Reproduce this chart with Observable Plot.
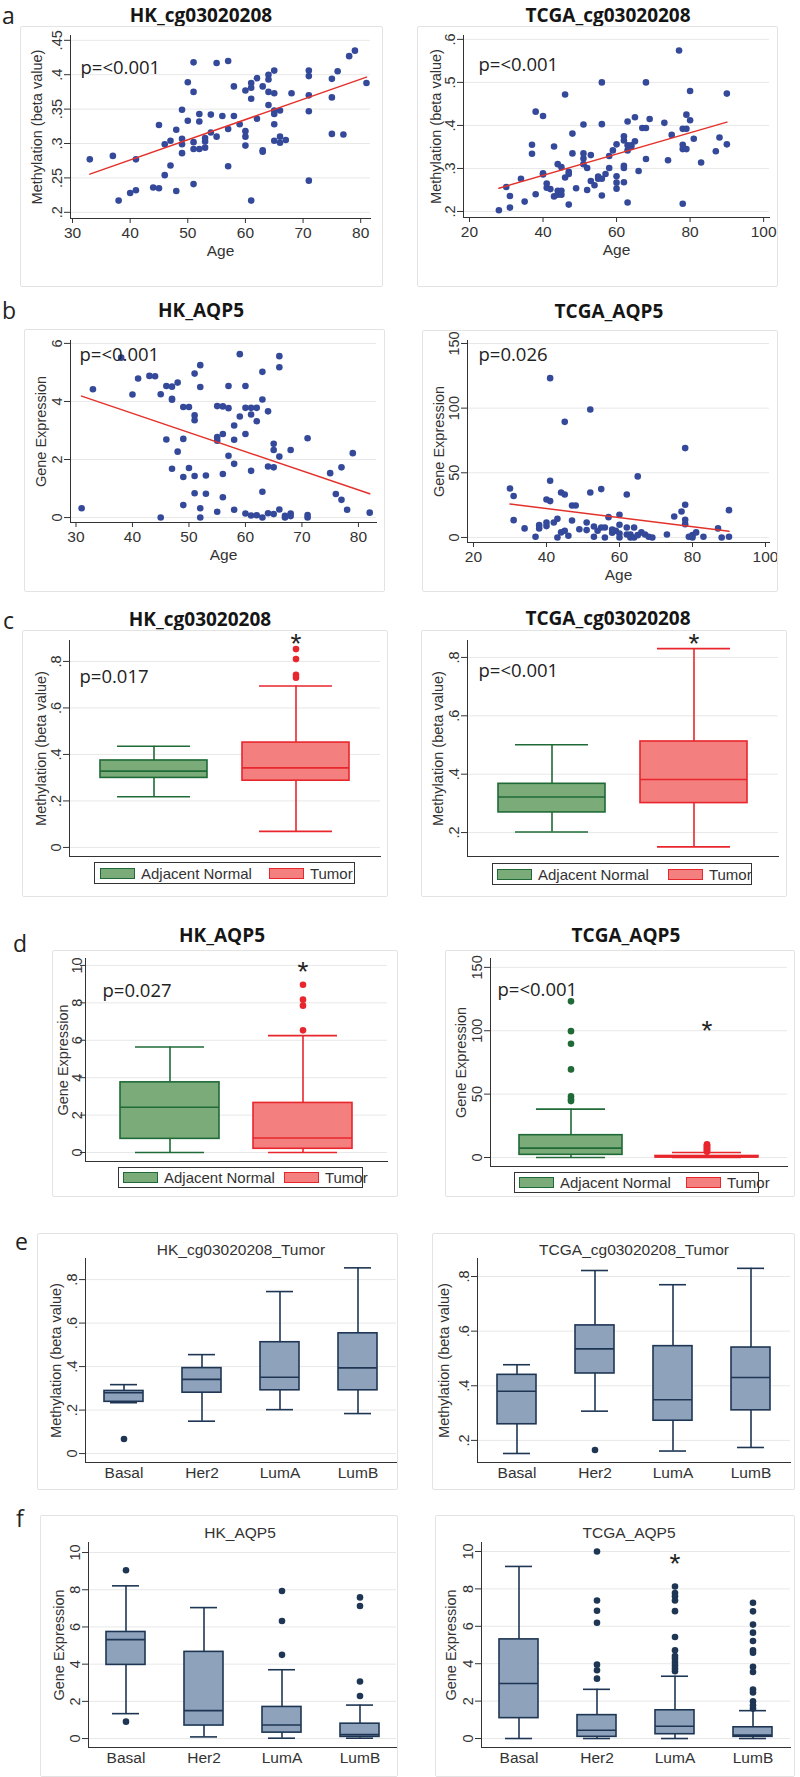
<!DOCTYPE html>
<html><head><meta charset="utf-8">
<script src="https://cdn.jsdelivr.net/npm/d3@7"></script>
<script src="https://cdn.jsdelivr.net/npm/@observablehq/plot@0.6"></script>
<style>
body{margin:0;background:#fff;}
#fig{position:relative;width:800px;height:1777px;overflow:hidden;background:#fff;font-family:"Liberation Sans",Arial,sans-serif;}
.frame{position:absolute;border:1px solid #e3e3e3;border-radius:2px;box-sizing:border-box;pointer-events:none;}
.t{position:absolute;transform:translate(-50%,-50%);white-space:nowrap;line-height:1;}
.bold{font-family:"Open Sans",sans-serif;font-weight:700;font-size:19px;color:#151515;}
.sub{font-family:"Liberation Sans",Arial,sans-serif;font-size:15.5px;color:#333;}
.letter{font-family:"Open Sans",sans-serif;font-size:23px;color:#222;transform:translate(0,-50%);}
.legend{position:absolute;box-sizing:border-box;border:1px solid #333;display:flex;align-items:center;font-family:"Liberation Sans",Arial,sans-serif;font-size:15px;color:#333;background:#fff;white-space:nowrap;}
.legend span{flex-shrink:0;}
.sw{display:inline-block;width:33px;height:9px;border:1.5px solid;margin-right:6px;}
</style></head>
<body><div id="fig"></div>
<script>
// ---------------- data ----------------
const aHK_age = [33,37,38,40,41,41,44,45,45,46,46,47,47,48,48,49,49,49,49,50,50,51,51,51,51,51,52,52,52,53,53,53,54,54,55,55,56,57,57,57,58,58,59,60,60,60,60,61,61,61,61,62,62,63,63,63,64,64,64,64,65,65,65,65,65,65,66,66,66,67,68,71,71,71,71,71,75,75,75,76,77,78,79,81];
const aHK_meth = [.277,.282,.217,.228,.232,.277,.236,.235,.327,.299,.254,.304,.268,.320,.231,.349,.307,.299,.286,.389,.333,.418,.375,.302,.292,.241,.343,.332,.292,.308,.303,.294,.342,.316,.417,.310,.340,.420,.321,.267,.383,.340,.328,.377,.318,.310,.297,.388,.381,.365,.217,.395,.336,.383,.290,.288,.400,.393,.375,.356,.406,.373,.348,.343,.328,.304,.348,.310,.301,.305,.373,.406,.398,.370,.347,.246,.394,.367,.314,.405,.313,.427,.435,.388];

const aTCGA_age = [28,30,31,31,34,35,37,37,38,38,40,40,40,41,41,42,43,43,44,44,44,45,45,45,46,46,47,47,47,48,48,49,51,51,51,51,52,52,53,53,54,55,55,56,56,56,56,57,58,58,59,60,60,60,60,62,62,62,62,62,63,63,63,63,64,64,65,65,66,67,68,68,68,69,73,74,75,77,78,78,78,78,79,79,79,80,80,81,83,87,88,90,90];
const aTCGA_meth = [.203,.257,.209,.236,.276,.223,.355,.334,.432,.240,.422,.289,.286,.265,.255,.252,.351,.235,.310,.248,.239,.303,.248,.239,.472,.279,.292,.216,.287,.381,.335,.254,.402,.335,.323,.310,.301,.250,.331,.271,.261,.281,.276,.500,.403,.276,.237,.287,.329,.301,.342,.356,.282,.267,.253,.375,.365,.306,.301,.268,.409,.354,.342,.221,.354,.350,.419,.363,.294,.394,.500,.394,.322,.415,.406,.319,.378,.574,.392,.355,.345,.218,.425,.392,.345,.480,.412,.369,.314,.340,.372,.474,.356];

const bHK_age = [31,33,38,40,41,43,44,45,45,46,46,47,47,47,47,48,48,49,49,49,49,50,50,51,51,51,51,51,52,52,52,52,53,53,55,55,55,55,56,56,56,56,57,57,57,58,58,58,58,59,59,60,60,60,60,61,61,61,61,62,62,62,63,63,63,63,64,64,64,65,65,65,65,66,66,66,66,67,67,68,68,68,71,71,71,75,76,77,77,78,79,82];
const bHK_expr = [0.32,4.42,5.51,4.24,4.79,4.88,4.87,4.25,0.0,4.53,2.69,4.51,4.09,4.06,1.68,4.65,2.27,3.81,2.71,1.40,0.43,3.81,1.71,4.96,3.52,3.35,1.43,0.84,5.25,4.50,0.32,0.0,1.45,0.82,3.84,2.77,2.65,0.20,3.83,2.88,1.50,0.70,4.53,3.77,2.13,3.17,2.68,1.85,0.27,5.63,3.48,4.53,3.78,2.88,0.14,3.78,3.55,1.61,0.07,3.78,3.32,0.08,5.02,4.07,0.89,0.0,3.66,1.76,0.15,2.54,2.33,1.73,0.12,5.56,5.18,2.10,0.28,0.06,0.0,2.33,0.14,0.05,2.73,0.09,0.0,1.53,0.81,1.73,0.61,0.27,2.22,0.17];

const bTCGA_age = [30,31,31,34,37,38,38,40,40,40,41,41,41,42,43,43,44,44,45,45,45,46,47,47,48,49,51,51,52,52,53,53,54,55,55,56,56,57,58,58,59,60,60,60,60,62,62,62,63,63,64,64,65,65,66,67,68,69,73,75,77,78,78,78,78,79,80,80,81,83,87,88,90,90];
const bTCGA_expr = [37.9,32,13.4,7.0,0.5,9.5,7.0,29.4,11.6,8.8,123.2,43.8,28.1,11.6,14.4,0,34.8,3.9,89.4,33.2,5.2,1.3,24.7,13.1,24.7,6.4,11.6,5.7,99,34.8,8.5,0.5,5.2,37.4,7.7,7.7,0,15.7,6.2,3.6,5.2,17.5,9.8,3.1,0,33.2,7.7,2.3,2.3,0,7.7,0,47.2,1.8,3.9,2.3,0.5,0,2.3,16.2,20.1,69.1,25.3,13.7,10.3,0.5,1.8,0,3.9,0.5,7.0,0,21.1,0.5];

// box plot statistics (lower whisker, q1, median, q3, upper whisker, outliers)
const grpCats = ["Adjacent Normal","Tumor"];
const subCats = ["Basal","Her2","LumA","LumB"];

const cHK_lo=[.218,.069], cHK_q1=[.299,.287], cHK_med=[.328,.342], cHK_q3=[.374,.451], cHK_hi=[.435,.694];
const cHK_out=[[],[.853,.810,.743,.730]];
const cTCGA_lo=[.202,.151], cTCGA_q1=[.269,.301], cTCGA_med=[.322,.382], cTCGA_q3=[.367,.512], cTCGA_hi=[.501,.830];
const cTCGA_out=[[],[]];
const dHK_lo=[0,0], dHK_q1=[.73,.2], dHK_med=[2.42,.78], dHK_q3=[3.75,2.65], dHK_hi=[5.64,6.25];
const dHK_out=[[],[8.97,8.17,7.85,6.53]];
const dTCGA_lo=[0,0], dTCGA_q1=[2.1,.1], dTCGA_med=[7.4,.4], dTCGA_q3=[17.6,1.2], dTCGA_hi=[38.2,3.9];
const dTCGA_out=[[123.2,99.7,89.7,69.5,48.2,46,44.5],[10.5,9.8,9,8.2,7.5,6.8,6,5.3,4.6]];

const eHK_lo=[.234,.149,.202,.184], eHK_q1=[.238,.280,.291,.291], eHK_med=[.280,.341,.351,.394], eHK_q3=[.288,.393,.512,.553], eHK_hi=[.317,.455,.745,.854];
const eHK_out=[[.067],[],[],[]];
const eTCGA_lo=[.152,.307,.161,.174], eTCGA_q1=[.259,.445,.272,.310], eTCGA_med=[.380,.535,.349,.430], eTCGA_q3=[.440,.621,.545,.540], eTCGA_hi=[.477,.822,.770,.830];
const eTCGA_out=[[],[.165],[],[]];
const fHK_lo=[1.34,.09,.02,.02], fHK_q1=[3.96,.70,.32,.09], fHK_med=[5.32,1.50,.73,.21], fHK_q3=[5.73,4.66,1.70,.80], fHK_hi=[8.21,7.04,3.70,1.80];
const fHK_out=[[9.05,.91],[],[7.93,6.32,4.5],[7.59,7.13,3.07,2.29]];
const fTCGA_lo=[0,0,0,0], fTCGA_q1=[1.09,.09,.23,.09], fTCGA_med=[2.94,.44,.66,.18], fTCGA_q3=[5.30,1.25,1.51,.60], fTCGA_hi=[9.20,2.63,3.33,1.49];
const fTCGA_out=[[],[10,7.38,6.83,6.19,3.95,3.65,3.20],[8.13,7.78,7.60,7.38,6.81,5.43,4.72,4.41,4.27,4.09,3.91,3.74,3.60],[7.26,6.80,6.09,5.66,5.21,4.72,4.59,3.83,3.56,2.62,2.46,1.99,1.78,1.60]];

// ---------------- styling ----------------
const navy="#34499a", red="#e4322b";
const grpFill=["#7aab78","#f47f7f"], grpStroke=["#1f6a37","#e8262d"];
const subFill=["#8ea3bb","#8ea3bb","#8ea3bb","#8ea3bb"], subStroke=["#1e3654","#1e3654","#1e3654","#1e3654"];
const fig=document.getElementById("fig");
const fmt=d=>d===0?"0":d3.format("~g")(d).replace(/^0\./,".");
const FS=14.5;

function addFrame(f){const d=document.createElement("div");d.className="frame";Object.assign(d.style,{left:f.x+"px",top:f.y+"px",width:f.w+"px",height:f.h+"px"});fig.appendChild(d);}
function addText(txt,x,y,cls){const d=document.createElement("div");d.className="t "+cls;d.textContent=txt;d.style.left=x+"px";d.style.top=y+"px";fig.appendChild(d);}
function place(el,f){el.style.position="absolute";el.style.left=f.x+"px";el.style.top=f.y+"px";fig.appendChild(el);}
function margins(f,q){return {marginLeft:q.l-f.x,marginRight:f.x+f.w-q.r,marginTop:q.t-f.y,marginBottom:f.y+f.h-q.b};}
const baseStyle={fontFamily:"Liberation Sans, Arial, sans-serif",fontSize:"14px",color:"#333",background:"none",overflow:"visible"};

function yAxis(p){
  return Plot.axisY(p.yTicks,{tickFormat:fmt,tickRotate:-90,tickSize:p.tickSize??6,tickPadding:p.tickPadding??3,fontSize:FS,label:p.yLabel,labelAnchor:"center",labelArrow:"none",labelOffset:p.yLabelOffset});
}

function scatter(p){
  const data=p.age.map((a,i)=>({age:a,v:p.val[i]}));
  const svg=Plot.plot({
    width:p.frame.w,height:p.frame.h,...margins(p.frame,p.plot),
    style:baseStyle,
    x:{domain:p.xDomain},y:{domain:p.yDomain},
    marks:[
      Plot.gridY(p.yTicks,{stroke:"#e8e8e8",strokeOpacity:1}),
      Plot.frame({anchor:"left",stroke:"#333"}),
      Plot.frame({anchor:"bottom",stroke:"#333"}),
      yAxis(p),
      Plot.axisX(p.xTicks,{tickSize:5,tickPadding:3,fontSize:FS+1,label:"Age",labelAnchor:"center",labelArrow:"none",labelOffset:37}),
      Plot.dot(data,{x:"age",y:"v",r:3.3,fill:navy}),
      Plot.linearRegressionY(data,{x:"age",y:"v",stroke:red,strokeWidth:1.5,ci:0}),
      Plot.text([p.pText],{text:d=>d,frameAnchor:"top-left",dx:p.pdx,dy:p.pdy,textAnchor:"start",fontFamily:"Open Sans",fontSize:18.5,fill:"#222"})
    ]
  });
  place(svg,p.frame);addFrame(p.frame);
}

function boxes(p){
  const B=p.cats.map((c,i)=>({cat:c,lo:p.lo[i],q1:p.q1[i],med:p.med[i],q3:p.q3[i],hi:p.hi[i],fill:p.fills[i],stroke:p.strokes[i]}));
  const O=[];p.out.forEach((arr,i)=>arr.forEach(v=>O.push({cat:p.cats[i],v,fill:p.strokes[i]})));
  const S=(p.stars||[]).map(s=>({cat:s[0],v:s[1]}));
  const sw=1.6;
  const marks=[
    Plot.gridY(p.yTicks,{stroke:"#e8e8e8",strokeOpacity:1}),
    Plot.frame({anchor:"left",stroke:"#333"}),
    Plot.frame({anchor:"bottom",stroke:"#333"}),
    yAxis(p),
    Plot.ruleX(B,{x:"cat",y1:"q3",y2:"hi",stroke:"stroke",strokeWidth:sw}),
    Plot.ruleX(B,{x:"cat",y1:"lo",y2:"q1",stroke:"stroke",strokeWidth:sw}),
    Plot.tickY(B,{x:"cat",y:"hi",stroke:"stroke",strokeWidth:sw,inset:p.capInset}),
    Plot.tickY(B,{x:"cat",y:"lo",stroke:"stroke",strokeWidth:sw,inset:p.capInset}),
    Plot.barY(B,{x:"cat",y1:"q1",y2:"q3",fill:"fill",stroke:"stroke",strokeWidth:sw}),
    Plot.tickY(B,{x:"cat",y:"med",stroke:"stroke",strokeWidth:sw}),
    Plot.dot(O,{x:"cat",y:"v",r:3.3,fill:"fill"}),
    Plot.text(S,{x:"cat",y:"v",text:()=>"*",fontSize:28,dy:7,fill:"#222"})
  ];
  if(p.showX) marks.push(Plot.axisX({tickSize:0,tickPadding:4,fontSize:15.5,label:null}));
  if(p.pText) marks.push(Plot.text([p.pText],{text:d=>d,frameAnchor:"top-left",dx:p.pdx,dy:p.pdy,textAnchor:"start",fontFamily:"Open Sans",fontSize:18.5,fill:"#222"}));
  const svg=Plot.plot({
    width:p.frame.w,height:p.frame.h,...margins(p.frame,p.plot),
    style:baseStyle,
    x:{domain:p.cats,paddingInner:p.pi,paddingOuter:p.po,axis:p.showX?undefined:null,label:null},
    y:{domain:p.yDomain},
    marks
  });
  place(svg,p.frame);addFrame(p.frame);
}

function legend(box){
  const d=document.createElement("div");d.className="legend";
  Object.assign(d.style,{left:box.x+"px",top:box.y+"px",width:box.w+"px",height:box.h+"px",paddingLeft:box.pad+"px"});
  grpCats.forEach((c,i)=>{
    const s=document.createElement("span");s.className="sw";s.style.background=grpFill[i];s.style.borderColor=grpStroke[i];
    const t=document.createElement("span");t.textContent=c;t.style.marginRight=(i===0?box.gap:0)+"px";
    d.appendChild(s);d.appendChild(t);
  });
  fig.appendChild(d);
}

// ---------------- panels ----------------
const MB="Methylation (beta value)", GE="Gene Expression";

addText("a",2,15,"letter");addText("b",2,310,"letter");addText("c",3,620,"letter");
addText("d",13,943,"letter");addText("e",15,1241,"letter");addText("f",16,1518,"letter");

addText("HK_cg03020208",201,15,"bold");addText("TCGA_cg03020208",608,15,"bold");
addText("HK_AQP5",201,310,"bold");addText("TCGA_AQP5",609,311,"bold");
addText("HK_cg03020208",200,619,"bold");addText("TCGA_cg03020208",608,618,"bold");
addText("HK_AQP5",222,935,"bold");addText("TCGA_AQP5",626,935,"bold");

scatter({frame:{x:20,y:26,w:363,h:261},plot:{l:70,r:370,t:35,b:218},age:aHK_age,val:aHK_meth,
  xDomain:[29.65,81.7],yDomain:[.191,.457],xTicks:[30,40,50,60,70,80],yTicks:[.2,.25,.3,.35,.4,.45],
  yLabel:MB,yLabelOffset:39,pText:"p=<0.001",pdx:10,pdy:25});
scatter({frame:{x:417,y:26,w:361,h:261},plot:{l:463,r:769,t:35,b:217},age:aTCGA_age,val:aTCGA_meth,
  xDomain:[18.37,101.6],yDomain:[.186,.609],xTicks:[20,40,60,80,100],yTicks:[.2,.3,.4,.5,.6],
  yLabel:MB,yLabelOffset:33,pText:"p=<0.001",pdx:15,pdy:22});
scatter({frame:{x:24,y:329,w:361,h:263},plot:{l:70,r:376,t:340,b:522},age:bHK_age,val:bHK_expr,
  xDomain:[29.03,83.2],yDomain:[-0.17,6.1],xTicks:[30,40,50,60,70,80],yTicks:[0,2,4,6],
  yLabel:GE,yLabelOffset:35,pText:"p=<0.001",pdx:9,pdy:7});
scatter({frame:{x:422,y:330,w:356,h:262},plot:{l:467,r:769,t:340,b:542},age:bTCGA_age,val:bTCGA_expr,
  xDomain:[18.36,101.1],yDomain:[-3.9,152.3],xTicks:[20,40,60,80,100],yTicks:[0,50,100,150],
  yLabel:GE,yLabelOffset:34,pText:"p=0.026",pdx:11,pdy:7});

boxes({frame:{x:22,y:630,w:366,h:267},plot:{l:69,r:380,t:640,b:856},cats:grpCats,fills:grpFill,strokes:grpStroke,
  lo:cHK_lo,q1:cHK_q1,med:cHK_med,q3:cHK_q3,hi:cHK_hi,out:cHK_out,pi:.246,po:.218,capInset:17,
  yDomain:[-.039,.89],yTicks:[0,.2,.4,.6,.8],yLabel:MB,yLabelOffset:34,pText:"p=0.017",pdx:10,pdy:29,stars:[["Tumor",.905]]});
boxes({frame:{x:421,y:630,w:366,h:267},plot:{l:467,r:778,t:640,b:856},cats:grpCats,fills:grpFill,strokes:grpStroke,
  lo:cTCGA_lo,q1:cTCGA_q1,med:cTCGA_med,q3:cTCGA_q3,hi:cTCGA_hi,out:cTCGA_out,pi:.246,po:.218,capInset:17,
  yDomain:[.118,.858],yTicks:[.2,.4,.6,.8],yLabel:MB,yLabelOffset:35,pText:"p=<0.001",pdx:11,pdy:23,stars:[["Tumor",.87]]});
boxes({frame:{x:52,y:950,w:346,h:247},plot:{l:85,r:387,t:958,b:1161},cats:grpCats,fills:grpFill,strokes:grpStroke,
  lo:dHK_lo,q1:dHK_q1,med:dHK_med,q3:dHK_q3,hi:dHK_hi,out:dHK_out,pi:.254,po:.254,capInset:15,tickSize:5,tickPadding:-1,
  yDomain:[-.48,10.37],yTicks:[0,2,4,6,8,10],yLabel:GE,yLabelOffset:28,pText:"p=0.027",pdx:17,pdy:25,stars:[["Tumor",10]]});
boxes({frame:{x:445,y:950,w:350,h:247},plot:{l:490,r:787,t:958,b:1166},cats:grpCats,fills:grpFill,strokes:grpStroke,
  lo:dTCGA_lo,q1:dTCGA_q1,med:dTCGA_med,q3:dTCGA_q3,hi:dTCGA_hi,out:dTCGA_out,pi:.243,po:.213,capInset:17,
  yDomain:[-7.1,157],yTicks:[0,50,100,150],yLabel:GE,yLabelOffset:35,pText:"p=<0.001",pdx:7,pdy:24,stars:[["Tumor",105]]});

legend({x:94,y:862,w:261,h:22,pad:5,gap:17});
legend({x:492,y:863,w:260,h:22,pad:4,gap:19});
legend({x:118,y:1167,w:245,h:21,pad:4,gap:9});
legend({x:514,y:1172,w:245,h:21,pad:4,gap:15});

boxes({frame:{x:37,y:1233,w:361,h:257},plot:{l:85,r:396,t:1258,b:1462},cats:subCats,fills:subFill,strokes:subStroke,
  lo:eHK_lo,q1:eHK_q1,med:eHK_med,q3:eHK_q3,hi:eHK_hi,out:eHK_out,pi:.5,po:.223,capInset:6,showX:true,
  yDomain:[-.041,.897],yTicks:[0,.2,.4,.6,.8],yLabel:MB,yLabelOffset:35});
boxes({frame:{x:432,y:1233,w:363,h:257},plot:{l:477,r:790,t:1258,b:1462},cats:subCats,fills:subFill,strokes:subStroke,
  lo:eTCGA_lo,q1:eTCGA_q1,med:eTCGA_med,q3:eTCGA_q3,hi:eTCGA_hi,out:eTCGA_out,pi:.5,po:.233,capInset:6,showX:true,
  yDomain:[.119,.866],yTicks:[.2,.4,.6,.8],yLabel:MB,yLabelOffset:39});
boxes({frame:{x:40,y:1515,w:358,h:262},plot:{l:88,r:396,t:1542,b:1747},cats:subCats,fills:subFill,strokes:subStroke,
  lo:fHK_lo,q1:fHK_q1,med:fHK_med,q3:fHK_q3,hi:fHK_hi,out:fHK_out,pi:.5,po:.2,capInset:6,showX:true,
  yDomain:[-.48,10.54],yTicks:[0,2,4,6,8,10],yLabel:GE,yLabelOffset:35});
boxes({frame:{x:435,y:1515,w:360,h:262},plot:{l:481,r:790,t:1542,b:1747},cats:subCats,fills:subFill,strokes:subStroke,
  lo:fTCGA_lo,q1:fTCGA_q1,med:fTCGA_med,q3:fTCGA_q3,hi:fTCGA_hi,out:fTCGA_out,pi:.5,po:.21,capInset:6,showX:true,
  yDomain:[-.48,10.48],yTicks:[0,2,4,6,8,10],yLabel:GE,yLabelOffset:36,stars:[["LumA",9.7]]});

addText("HK_cg03020208_Tumor",241,1250,"sub");addText("TCGA_cg03020208_Tumor",634,1250,"sub");
addText("HK_AQP5",240,1533,"sub");addText("TCGA_AQP5",629,1533,"sub");
</script></body></html>
